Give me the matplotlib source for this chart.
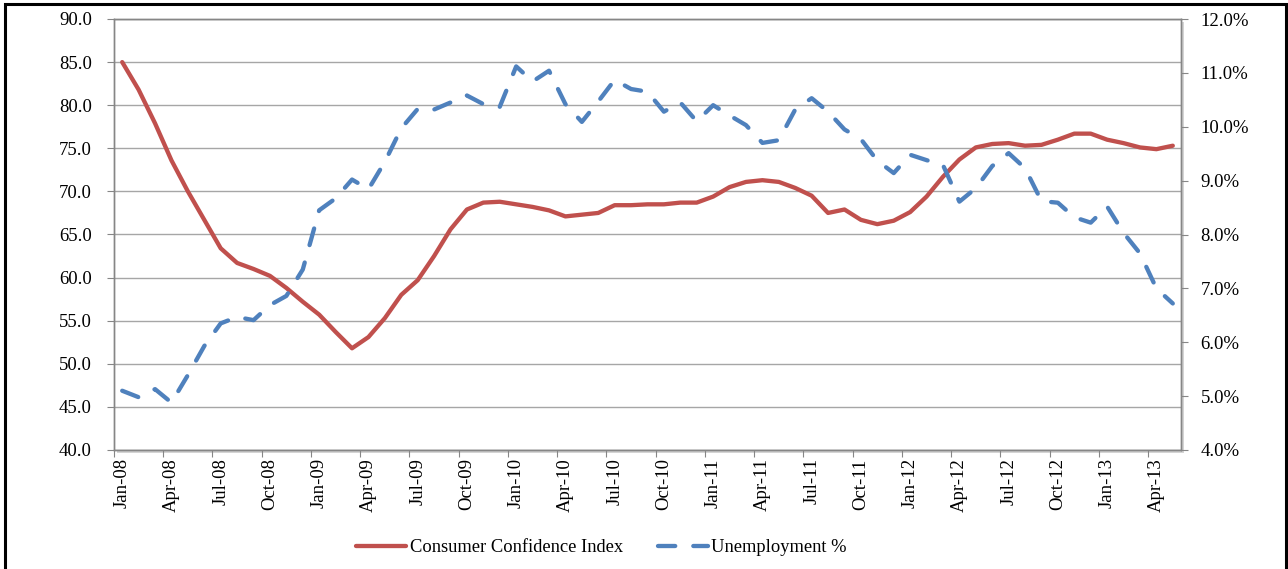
import matplotlib
matplotlib.use('Agg')
import matplotlib.pyplot as plt
from matplotlib.patches import Rectangle
from matplotlib.ticker import FuncFormatter

# quarterly labels shown under the monthly categories (Jan-08 .. May-13)
tick_labels = ['Jan-08', 'Apr-08', 'Jul-08', 'Oct-08', 'Jan-09', 'Apr-09', 'Jul-09', 'Oct-09',
               'Jan-10', 'Apr-10', 'Jul-10', 'Oct-10', 'Jan-11', 'Apr-11', 'Jul-11', 'Oct-11',
               'Jan-12', 'Apr-12', 'Jul-12', 'Oct-12', 'Jan-13', 'Apr-13']

# consumer confidence index, one value per month
confidence = [85.0, 81.8, 77.9, 73.6, 70.0, 66.7, 63.4, 61.7, 61.0, 60.2, 58.8, 57.2,
              55.7, 53.7, 51.8, 53.1, 55.3, 58.0, 59.7, 62.5, 65.6, 67.9, 68.7, 68.8,
              68.5, 68.2, 67.8, 67.1, 67.3, 67.5, 68.4, 68.4, 68.5, 68.5, 68.7, 68.7,
              69.4, 70.5, 71.1, 71.3, 71.1, 70.4, 69.5, 67.5, 67.9, 66.7, 66.2, 66.6,
              67.6, 69.4, 71.7, 73.7, 75.1, 75.5, 75.6, 75.3, 75.4, 76.0, 76.7, 76.7,
              76.0, 75.6, 75.1, 74.9, 75.3]

# unemployment rate in percent
unemployment = [5.10, 4.98, 5.13, 4.88, 5.39, 5.93, 6.35, 6.47, 6.41, 6.69, 6.86, 7.35,
                8.45, 8.67, 9.02, 8.84, 9.35, 9.97, 10.33, 10.32, 10.45, 10.58, 10.42, 10.37,
                11.12, 10.84, 11.04, 10.42, 10.09, 10.47, 10.87, 10.70, 10.65, 10.28, 10.45, 10.10,
                10.40, 10.21, 10.03, 9.70, 9.75, 10.32, 10.53, 10.28, 9.95, 9.77, 9.37, 9.14,
                9.48, 9.38, 9.29, 8.61, 8.86, 9.27, 9.51, 9.23, 8.62, 8.59, 8.32, 8.22,
                8.52, 8.03, 7.65, 7.00, 6.72]

plt.rcParams['font.family'] = ['Liberation Serif', 'DejaVu Serif']

W, H = 1288, 569
left, right, top, bottom = 114, 1181, 19, 450
grey = '#868686'

fig = plt.figure(figsize=(W / 100, H / 100), dpi=100, facecolor='white')
ax = fig.add_axes([left / W, 1 - bottom / H, (right - left) / W, (bottom - top) / H])

# soft shadow behind the plot area
fig.add_artist(Rectangle(((left + 3) / W, 1 - (bottom + 3) / H), (right - left) / W, (bottom - top) / H,
                         transform=fig.transFigure, fc='#d4d4d4', ec='none', zorder=-1))
# outer black frame (bottom edge runs off the picture)
fig.add_artist(Rectangle((5 / W, -0.05), (1286 - 5) / W, 1 - 4 / H + 0.05,
                         transform=fig.transFigure, fill=False, ec='black', lw=2.2, zorder=5))

months = list(range(len(confidence)))
l1, = ax.plot(months, confidence, color='#C0504D', lw=3.1, solid_joinstyle='round',
              solid_capstyle='round', label='Consumer Confidence Index')

ax2 = ax.twinx()
l2, = ax2.plot(months, unemployment, color='#4F81BD', lw=3.1, dashes=(4.0, 4.2),
               dash_capstyle='round', dash_joinstyle='round', label='Unemployment %')

ax.set_facecolor('white')
ax.set_xlim(-0.5, len(months) - 0.5)
ax.set_ylim(40, 90)
ax.set_yticks(range(40, 91, 5))
ax.yaxis.set_major_formatter(FuncFormatter(lambda v, p: '%.1f' % v))
ax.yaxis.grid(True, color='#a6a6a6', lw=1.0)
ax.set_axisbelow(True)

ax.set_xticks([-0.5 + 3 * k for k in range(len(tick_labels))])
ax.set_xticklabels([''] * len(tick_labels))
ax.set_xticks(range(0, len(months), 3), minor=True)
ax.set_xticklabels(tick_labels, minor=True, rotation=90)
ax.tick_params(axis='x', which='major', length=5, color=grey)
ax.tick_params(axis='x', which='minor', length=0, pad=6, labelsize=13.5)
ax.tick_params(axis='y', length=5, color=grey, pad=11, labelsize=13.5)

ax2.set_ylim(4, 12)
ax2.set_yticks(range(4, 13))
ax2.yaxis.set_major_formatter(FuncFormatter(lambda v, p: '%.1f%%' % v))
ax2.tick_params(axis='y', length=5, color=grey, pad=9, labelsize=13.5)

for a in (ax, ax2):
    for s in a.spines.values():
        s.set_color(grey)
        s.set_linewidth(1.0)

fig.legend(handles=[l1, l2], loc='center', bbox_to_anchor=(0.467, 0.037), ncol=2,
           frameon=False, fontsize=13.3, handlelength=2.7, handletextpad=0.2, columnspacing=1.9)

fig.savefig('out.png', dpi=100)
